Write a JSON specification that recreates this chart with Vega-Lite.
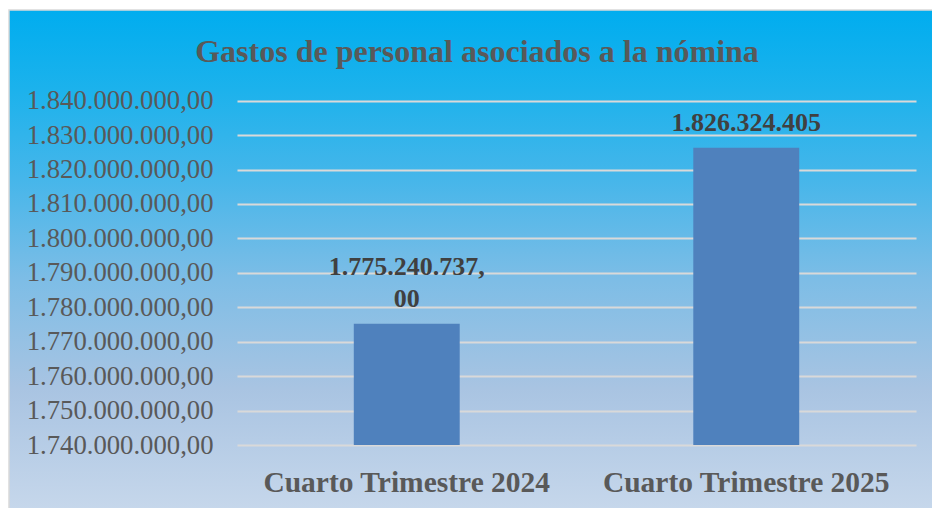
{
  "$schema": "https://vega.github.io/schema/vega-lite/v6.json",
  "width": 924,
  "height": 499,
  "autosize": {"type": "none"},
  "padding": {"left": 9, "top": 10, "right": 0, "bottom": 0},
  "background": "white",
  "title": {
    "text": "Gastos de personal asociados a la nómina",
    "font": "Liberation Serif",
    "fontSize": 32,
    "fontWeight": "bold",
    "color": "#595959",
    "anchor": "middle",
    "offset": -84,
    "baseline": "alphabetic",
    "dx": 6
  },
  "config": {
    "locale": {"number": {"decimal": ",", "thousands": ".", "grouping": [3], "currency": ["", ""]}},
    "view": {
      "fill": {
        "gradient": "linear",
        "x1": 0, "y1": 0, "x2": 0, "y2": 1,
        "stops": [
          {"offset": 0, "color": "#00adef"},
          {"offset": 0.16, "color": "#1cb2ec"},
          {"offset": 0.34, "color": "#46b6ea"},
          {"offset": 0.54, "color": "#7dbde6"},
          {"offset": 0.76, "color": "#a9c4e2"},
          {"offset": 1, "color": "#c6d7eb"}
        ]
      },
      "stroke": "#d9d9d9",
      "strokeWidth": 1.5
    }
  },
  "data": {
    "values": [
      {"periodo": "Cuarto Trimestre 2024", "gasto": 1775240737, "etiqueta": "1.775.240.737,\n00"},
      {"periodo": "Cuarto Trimestre 2025", "gasto": 1826324405, "etiqueta": "1.826.324.405"}
    ]
  },
  "encoding": {
    "x": {
      "field": "periodo",
      "type": "nominal",
      "sort": null,
      "scale": {"range": [228, 907], "paddingInner": 0.688, "paddingOuter": 0.344},
      "axis": {
        "orient": "bottom",
        "offset": -64,
        "domain": false,
        "ticks": false,
        "tickSize": 0,
        "grid": false,
        "labelPadding": 23,
        "labelFont": "Liberation Serif",
        "labelFontSize": 29.5,
        "labelFontWeight": "bold",
        "labelColor": "#595959",
        "labelLimit": 0,
        "labelAngle": 0,
        "title": null
      }
    },
    "y": {
      "field": "gasto",
      "type": "quantitative",
      "scale": {"domain": [1740000000, 1840000000], "range": [435, 90.7], "zero": false, "nice": false},
      "axis": {
        "orient": "left",
        "offset": -228,
        "domain": false,
        "ticks": false,
        "tickSize": 0,
        "labelPadding": 24,
        "labelFont": "Liberation Serif",
        "labelFontSize": 26.7,
        "labelColor": "#595959",
        "labelLimit": 0,
        "format": ",.2f",
        "values": [1740000000, 1750000000, 1760000000, 1770000000, 1780000000, 1790000000, 1800000000, 1810000000, 1820000000, 1830000000, 1840000000],
        "grid": true,
        "gridColor": "#d9d9d9",
        "gridWidth": 2,
        "title": null
      }
    }
  },
  "layer": [
    {
      "mark": {"type": "bar", "color": "#4F81BD"},
      "encoding": {"y2": {"datum": 1740000000}}
    },
    {
      "transform": [{"filter": "datum.periodo === 'Cuarto Trimestre 2024'"}],
      "mark": {
        "type": "text",
        "font": "Liberation Serif",
        "fontSize": 26,
        "fontWeight": "bold",
        "color": "#404040",
        "baseline": "alphabetic",
        "lineBreak": "\n",
        "lineHeight": 32,
        "dy": -49
      },
      "encoding": {"text": {"field": "etiqueta"}}
    },
    {
      "transform": [{"filter": "datum.periodo === 'Cuarto Trimestre 2025'"}],
      "mark": {
        "type": "text",
        "font": "Liberation Serif",
        "fontSize": 26,
        "fontWeight": "bold",
        "color": "#404040",
        "baseline": "alphabetic",
        "lineBreak": "\n",
        "lineHeight": 32,
        "dy": -17
      },
      "encoding": {"text": {"field": "etiqueta"}}
    }
  ]
}
